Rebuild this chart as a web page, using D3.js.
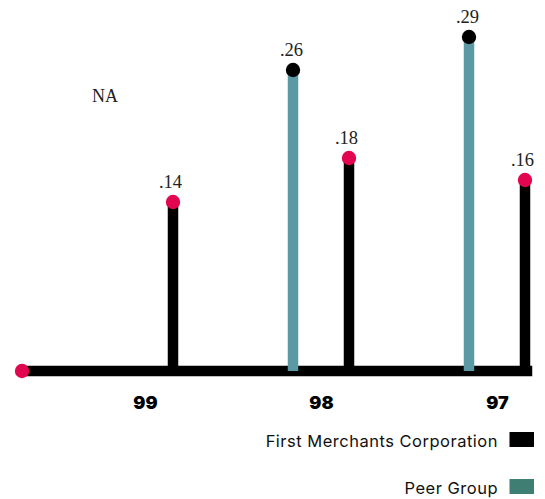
<!DOCTYPE html>
<html>
<head>
<meta charset="utf-8">
<script src="https://cdn.jsdelivr.net/npm/d3@7"></script>
<style>
  html, body { margin: 0; padding: 0; background: #fff; }
  svg { display: block; }
</style>
</head>
<body>
<svg id="chart" width="545" height="499"></svg>
<script>
// Years shown, newest first
const years = ["99", "98", "97"];
// Return values per year (null = not available)
const fmcValues = [0.14, 0.18, 0.16];
const peerValues = [null, 0.26, 0.29];
const fmcLabels = [".14", ".18", ".16"];
const peerLabels = ["NA", ".26", ".29"];
const seriesNames = ["First Merchants Corporation", "Peer Group"];

const W = 545, H = 499;
const svg = d3.select("#chart");

const colors = {
  fmcBar: "#000000",
  peerBar: "#5b9aa5",
  fmcDot: "#e2054f",
  peerDot: "#000000",
  peerSwatch: "#3f7e72"
};

const x = d3.scalePoint().domain(years).range([145, 497]);
// floor of the scale sits a little below zero so bars rise off the base line
const y = d3.scaleLinear().domain([-0.0136, 0.30]).range([371, 26]);

const peerOffset = -28, fmcOffset = 28;
const barW = 10.5, dotR = 7.2;
const baseY = y(-0.0136);

// base line
const lineStart = 22;
const lineEnd = x(years[years.length - 1]) + fmcOffset + barW / 2 + 2;
svg.append("line")
  .attr("x1", lineStart).attr("x2", lineEnd)
  .attr("y1", baseY).attr("y2", baseY)
  .attr("stroke", "#000").attr("stroke-width", 10.5);
svg.append("circle")
  .attr("cx", lineStart).attr("cy", baseY).attr("r", dotR)
  .attr("fill", colors.fmcDot);

const rows = years.map((yr, i) => ({
  year: yr, fmc: fmcValues[i], peer: peerValues[i],
  fmcLabel: fmcLabels[i], peerLabel: peerLabels[i]
}));

const serif = "'Liberation Serif', 'DejaVu Serif', serif";
const sans = "Inter, 'Liberation Sans', Arial, sans-serif";

// Peer group stems
rows.filter(d => d.peer != null).forEach(d => {
  const cx = x(d.year) + peerOffset;
  svg.append("rect")
    .attr("x", cx - barW / 2).attr("width", barW)
    .attr("y", y(d.peer)).attr("height", baseY - y(d.peer))
    .attr("fill", colors.peerBar);
  svg.append("circle")
    .attr("cx", cx).attr("cy", y(d.peer)).attr("r", dotR)
    .attr("fill", colors.peerDot);
  svg.append("text")
    .attr("x", cx - 1.5).attr("y", y(d.peer) - 14)
    .attr("text-anchor", "middle")
    .attr("font-family", serif).attr("font-size", 18.5)
    .attr("fill", "#222")
    .text(d.peerLabel);
});

// Not-available note for peer group
rows.filter(d => d.peer == null).forEach(d => {
  svg.append("text")
    .attr("x", x(d.year) + peerOffset + 1).attr("y", 102)
    .attr("text-anchor", "end")
    .attr("font-family", serif).attr("font-size", 18)
    .attr("fill", "#222")
    .text(d.peerLabel);
});

// First Merchants stems
rows.forEach(d => {
  const cx = x(d.year) + fmcOffset;
  svg.append("rect")
    .attr("x", cx - barW / 2).attr("width", barW)
    .attr("y", y(d.fmc)).attr("height", baseY - y(d.fmc))
    .attr("fill", colors.fmcBar);
  svg.append("circle")
    .attr("cx", cx).attr("cy", y(d.fmc)).attr("r", dotR)
    .attr("fill", colors.fmcDot);
  svg.append("text")
    .attr("x", cx - 2.5).attr("y", y(d.fmc) - 14)
    .attr("text-anchor", "middle")
    .attr("font-family", serif).attr("font-size", 18.5)
    .attr("fill", "#222")
    .text(d.fmcLabel);
});

// Year axis labels
const xAxis = d3.axisBottom(x).tickSize(0).tickPadding(0);
const gx = svg.append("g").attr("transform", `translate(0, 409)`).call(xAxis);
gx.select(".domain").remove();
gx.selectAll("text")
  .attr("dy", 0)
  .attr("font-family", sans)
  .attr("font-size", 18).attr("font-weight", 900)
  .attr("fill", "#000");

// Legend
const legend = svg.append("g");
const legendItems = [
  { name: seriesNames[0], color: colors.fmcBar, y: 432 },
  { name: seriesNames[1], color: colors.peerSwatch, y: 479 }
];
legendItems.forEach(it => {
  legend.append("rect")
    .attr("x", 509.5).attr("y", it.y).attr("width", 24.5).attr("height", 15)
    .attr("fill", it.color);
  legend.append("text")
    .attr("x", 498).attr("y", it.y + 14.5)
    .attr("text-anchor", "end")
    .attr("font-family", sans)
    .attr("font-size", 16.5)
    .attr("letter-spacing", 0.5)
    .attr("fill", "#111")
    .text(it.name);
});
</script>
</body>
</html>
